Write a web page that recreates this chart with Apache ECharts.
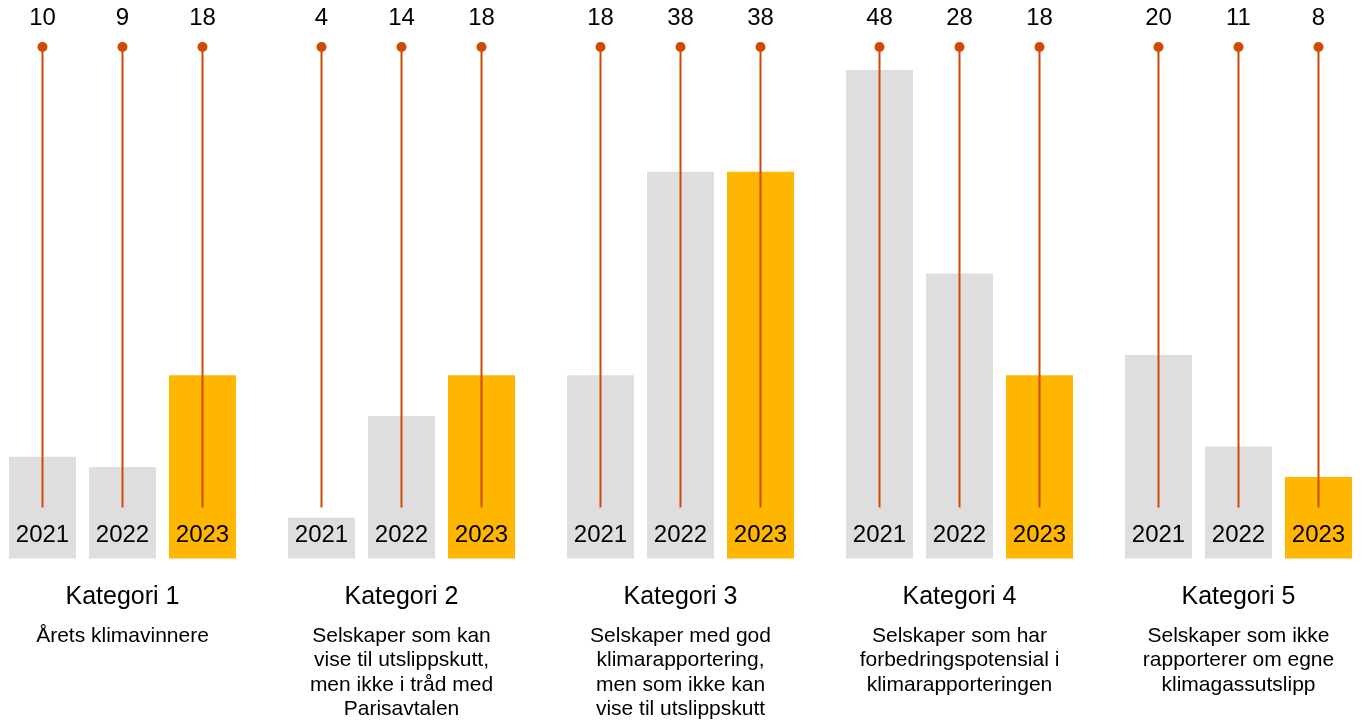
<!DOCTYPE html>
<html>
<head>
<meta charset="utf-8">
<script src="https://cdn.jsdelivr.net/npm/echarts@6/dist/echarts.min.js"></script>
<style>
    html, body { margin: 0; padding: 0; background: #fff; overflow: hidden; }
    #myEcharts { position: absolute; left: -17px; top: 0; width: 1395px; height: 725px; }
</style>
</head>
<body>
<div id="myEcharts"></div>
<script>
const categories = ['Kategori 1', 'Kategori 2', 'Kategori 3', 'Kategori 4', 'Kategori 5'];
const descriptions = [
    'Årets klimavinnere',
    'Selskaper som kan\nvise til utslippskutt,\nmen ikke i tråd med\nParisavtalen',
    'Selskaper med god\nklimarapportering,\nmen som ikke kan\nvise til utslippskutt',
    'Selskaper som har\nforbedringspotensial i\nklimarapporteringen',
    'Selskaper som ikke\nrapporterer om egne\nklimagassutslipp'
];
const years = ['2021', '2022', '2023'];
const values2021 = [10, 4, 18, 48, 20];
const values2022 = [9, 14, 38, 28, 11];
const values2023 = [18, 18, 38, 18, 8];

const FONT = 'Arial, "Liberation Sans", sans-serif';
const Y_MAX = 50.25;
const STEM_FROM = 5;
const BAR_W = 67;
const BAR_STEP = 80;
const RED = '#D04A02';

const allValues = [values2021, values2022, values2023];
const stems = [];
allValues.forEach((vals, yi) => {
    vals.forEach((v, ci) => stems.push([ci, yi, v]));
});

function barSeries(name, data, color) {
    return {
        name: name,
        type: 'bar',
        data: data,
        barWidth: BAR_W,
        barGap: ((BAR_STEP - BAR_W) / BAR_W * 100).toFixed(1) + '%',
        itemStyle: { color: color },
        label: {
            show: true,
            position: 'insideBottom',
            distance: 11,
            formatter: name,
            color: '#000',
            fontFamily: FONT,
            fontSize: 24
        },
        z: 2
    };
}

const option = {
    animation: false,
    grid: { left: 0, right: 0, top: 47, bottom: 166.5 },
    xAxis: {
        type: 'category',
        data: categories,
        axisLine: { show: false },
        axisTick: { show: false },
        axisLabel: {
            interval: 0,
            margin: 13,
            formatter: (val, idx) => '{t|' + val + '}\n{d|' + descriptions[idx] + '}',
            rich: {
                t: { fontFamily: FONT, fontSize: 25, color: '#000', lineHeight: 52 },
                d: { fontFamily: FONT, fontSize: 21, color: '#000', lineHeight: 24.5 }
            }
        }
    },
    yAxis: {
        type: 'value',
        min: 0,
        max: Y_MAX,
        show: false,
        splitLine: { show: false }
    },
    series: [
        barSeries(years[0], values2021, '#DEDEDE'),
        barSeries(years[1], values2022, '#DEDEDE'),
        barSeries(years[2], values2023, '#FFB600'),
        {
            type: 'custom',
            data: stems,
            clip: false,
            z: 5,
            renderItem: function (params, api) {
                const ci = api.value(0);
                const yi = api.value(1);
                const x = api.coord([ci, 0])[0] + (yi - 1) * BAR_STEP;
                const yTop = api.coord([ci, Y_MAX])[1];
                const yBot = api.coord([ci, STEM_FROM])[1];
                return {
                    type: 'group',
                    children: [
                        {
                            type: 'line',
                            shape: { x1: x, y1: yBot, x2: x, y2: yTop },
                            style: { stroke: RED, lineWidth: 2 }
                        },
                        {
                            type: 'circle',
                            shape: { cx: x, cy: yTop, r: 5 },
                            style: { fill: RED }
                        },
                        {
                            type: 'text',
                            style: {
                                x: x,
                                y: yTop - 29,
                                text: String(api.value(2)),
                                align: 'center',
                                verticalAlign: 'middle',
                                fill: '#000',
                                fontFamily: FONT,
                                fontSize: 24
                            }
                        }
                    ]
                };
            }
        }
    ]
};

const chart = echarts.init(document.getElementById('myEcharts'));
chart.setOption(option);
</script>
</body>
</html>
